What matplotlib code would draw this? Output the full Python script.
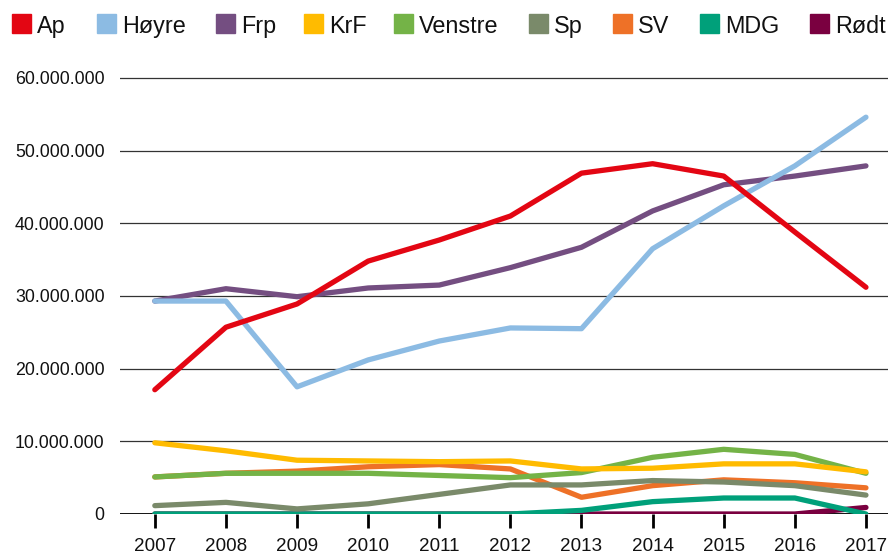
import matplotlib
matplotlib.use("Agg")
import matplotlib.pyplot as plt
from matplotlib.patches import Rectangle
from matplotlib.ticker import FuncFormatter

plt.rcParams['font.family'] = ['Liberation Sans', 'DejaVu Sans']

years = [2007, 2008, 2009, 2010, 2011, 2012, 2013, 2014, 2015, 2016, 2017]
parties = ["Ap", "Høyre", "Frp", "KrF", "Venstre", "Sp", "SV", "MDG", "Rødt"]
colors = ["#e30613", "#8cbbe3", "#744e81", "#ffbb00", "#74b347",
          "#7a8a6a", "#ee7127", "#00a07a", "#7a0040"]

ap      = [17.1, 25.7, 28.9, 34.8, 37.7, 41.0, 46.9, 48.2, 46.5, 38.8, 31.2]
hoyre   = [29.3, 29.3, 17.5, 21.2, 23.8, 25.6, 25.5, 36.5, 42.4, 47.9, 54.6]
frp     = [29.3, 31.0, 29.9, 31.1, 31.5, 33.9, 36.7, 41.7, 45.3, 46.5, 47.9]
krf     = [9.8, 8.7, 7.4, 7.3, 7.2, 7.3, 6.2, 6.3, 6.9, 6.9, 5.8]
venstre = [5.1, 5.6, 5.6, 5.6, 5.3, 5.0, 5.7, 7.8, 8.9, 8.2, 5.6]
sp      = [1.15, 1.6, 0.7, 1.4, 2.7, 4.0, 4.0, 4.6, 4.4, 3.9, 2.6]
sv      = [5.1, 5.6, 5.9, 6.5, 6.8, 6.2, 2.3, 3.9, 4.7, 4.3, 3.6]
mdg     = [0, 0, 0, 0, 0, 0, 0.5, 1.7, 2.2, 2.2, 0]
rodt    = [0, 0, 0, 0, 0, 0, 0, 0, 0, 0, 0.9]

series = [ap, hoyre, frp, krf, venstre, sp, sv, mdg, rodt]

fig = plt.figure(figsize=(8.88, 5.57), dpi=100)
ax = fig.add_axes([0.1351, 0.0772, 0.8649, 0.7959])

n = len(series)
for i, (name, vals, c) in enumerate(zip(parties, series, colors)):
    ax.plot(years, [v * 1e6 for v in vals], color=c, lw=3.8,
            solid_capstyle='round', solid_joinstyle='round', zorder=10 + (n - i))

ax.set_xlim(2006.51, 2017.31)
ax.set_ylim(0, 61e6)
ax.set_yticks([0, 10e6, 20e6, 30e6, 40e6, 50e6, 60e6])
ax.yaxis.set_major_formatter(FuncFormatter(lambda v, p: f"{int(v):,}".replace(",", ".")))
ax.set_xticks(years)
ax.grid(axis='y', color='#333333', lw=0.9)
ax.axhline(0, color='black', lw=2, zorder=5)
for s in ['top', 'right', 'left', 'bottom']:
    ax.spines[s].set_visible(False)
ax.tick_params(axis='y', length=0, pad=11, labelsize=12.8, labelcolor='#111111')
ax.tick_params(axis='x', length=10, width=2, color='black', pad=7,
               labelsize=13.6, labelcolor='#111111')

# Legend
text_x = [37, 122, 241, 329, 419, 554, 638, 725, 835]
W, H = 888, 557
for name, c, tx in zip(parties, colors, text_x):
    fig.patches.append(Rectangle(((tx - 25) / W, 1 - 33 / H), 19 / W, 19 / H,
                                 transform=fig.transFigure, color=c))
    fig.text(tx / W, 1 - 33 / H, name, fontsize=16.8, va='baseline', ha='left',
             color='#111111')

fig.savefig("out.png", dpi=100)
